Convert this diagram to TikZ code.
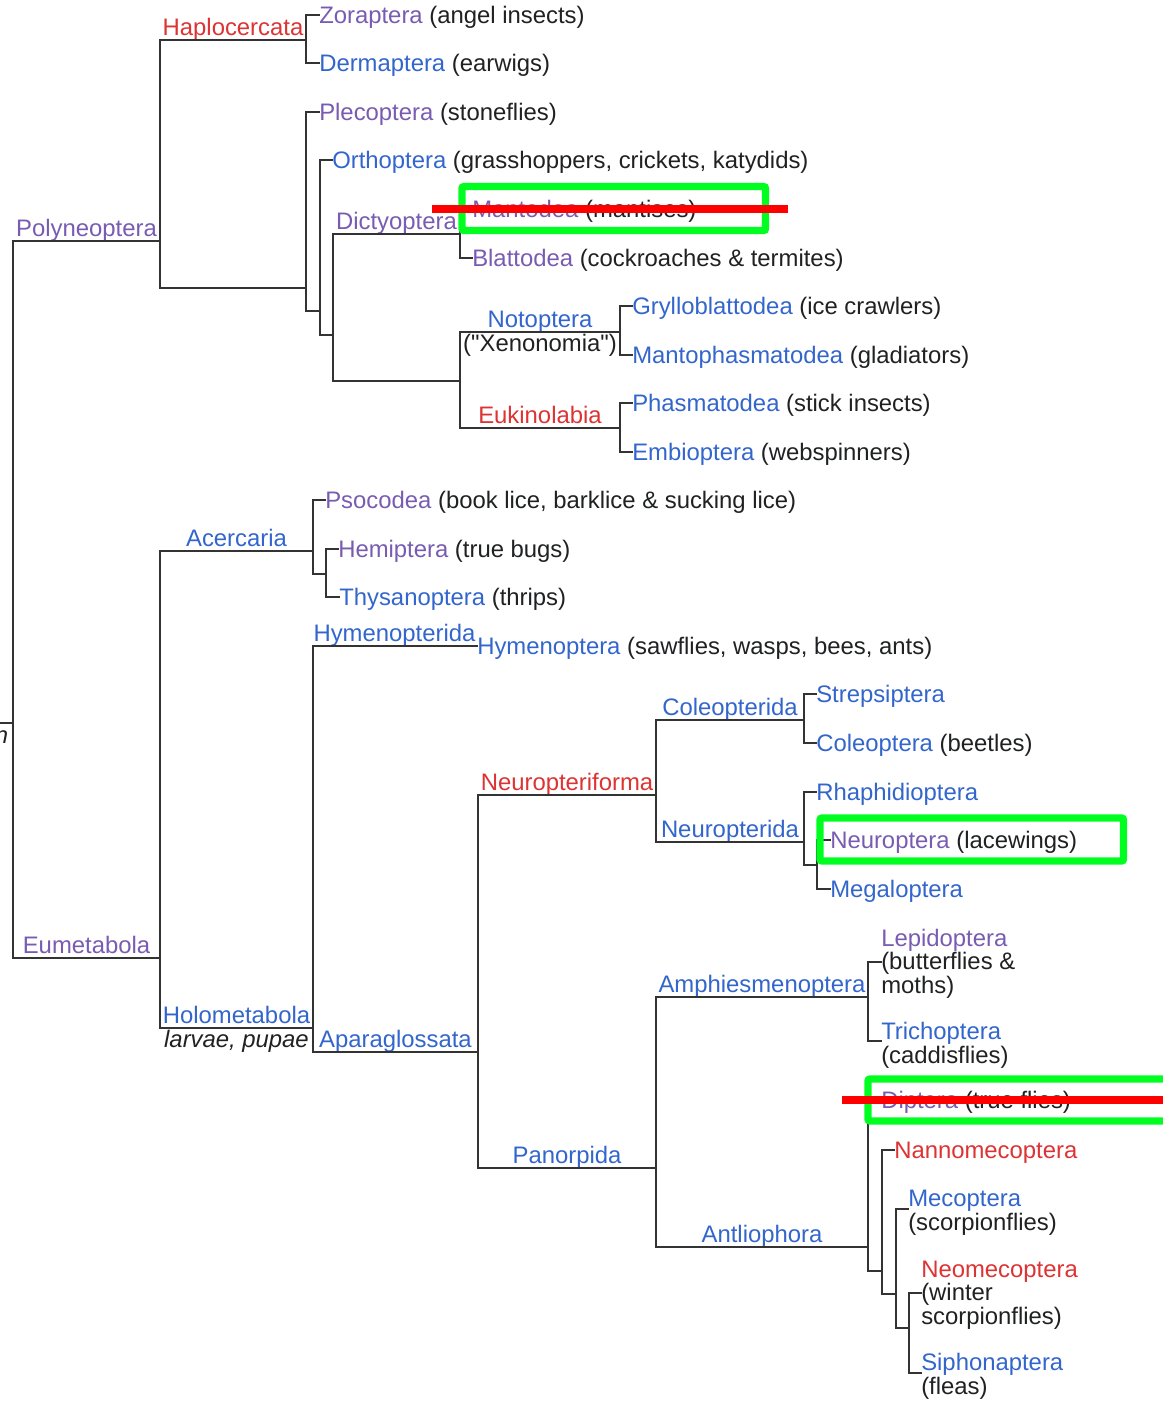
\documentclass[tikz,border=0pt]{standalone}
\usepackage{fontspec}
\setmainfont{Liberation Sans}
\usetikzlibrary{calc}
\definecolor{purp}{HTML}{795CB2}
\definecolor{blu}{HTML}{3366CC}
\definecolor{rdl}{HTML}{DD3333}
\definecolor{ink}{HTML}{202122}
\definecolor{linec}{HTML}{333333}
\definecolor{grn}{HTML}{00FF21}
\definecolor{strike}{HTML}{FF0000}
\newcommand{\tpu}[1]{\textcolor{purp}{#1}}
\newcommand{\tbl}[1]{\textcolor{blu}{#1}}
\newcommand{\trd}[1]{\textcolor{rdl}{#1}}
\begin{document}
\begin{tikzpicture}[x=0.75pt,y=-0.75pt,
  br/.style={draw=linec,line width=1.5pt,line cap=rect},
  txt/.style={inner sep=0pt,text=ink,font=\fontsize{17.9pt}{17.9pt}\selectfont},
  leaf/.style={txt,anchor=west,text height=12pt,text depth=0pt},
  lab/.style={txt,anchor=base},
  hl/.style={draw=grn,line width=5.5pt,rounded corners=1.5pt},
  cross/.style={draw=strike,line width=5.5pt}]
\useasboundingbox (0,0) rectangle (1163,1404);
\fill[white] (0,0) rectangle (1163,1404);

% ---------- junction coordinates ----------
\coordinate (rs) at (0,723);
\coordinate (r) at (13,723);
\coordinate (pn) at (160,241);
\coordinate (hap) at (306,40);
\coordinate (plg) at (306,288);
\coordinate (o1) at (320,311);
\coordinate (o2) at (333,335);
\coordinate (dic) at (460,234);
\coordinate (xen) at (460,381);
\coordinate (not) at (620,332);
\coordinate (euk) at (620,428);
\coordinate (eu) at (160,958);
\coordinate (ace) at (313,551);
\coordinate (a2) at (326,574);
\coordinate (hol) at (313,1028);
\coordinate (apa) at (478,1052);
\coordinate (npf) at (656,795);
\coordinate (col) at (804,720);
\coordinate (neu) at (804,842);
\coordinate (n2) at (817,865);
\coordinate (pan) at (656,1168);
\coordinate (amp) at (868,997);
\coordinate (ant) at (868,1247);
\coordinate (m1) at (882,1271);
\coordinate (m2) at (896,1294);
\coordinate (m3) at (909,1328);
\coordinate (triS) at (881,1041);
\coordinate (mecS) at (908,1209);
\coordinate (sipS) at (921,1373);

% ---------- leaves ----------
\node[leaf] (zor) at (319,15) {\tpu{Zoraptera} (angel insects)};
\node[leaf] (der) at (319,63) {\tbl{Dermaptera} (earwigs)};
\node[leaf] (ple) at (319,112) {\tpu{Plecoptera} (stoneflies)};
\node[leaf] (ort) at (332,160) {\tbl{Orthoptera} (grasshoppers, crickets, katydids)};
\node[leaf] (man) at (472,209) {\tpu{Mantodea} (mantises)};
\node[leaf] (bla) at (472,258) {\tpu{Blattodea} (cockroaches \& termites)};
\node[leaf] (gry) at (632,306) {\tbl{Grylloblattodea} (ice crawlers)};
\node[leaf] (mph) at (632,355) {\tbl{Mantophasmatodea} (gladiators)};
\node[leaf] (pha) at (632,403) {\tbl{Phasmatodea} (stick insects)};
\node[leaf] (emb) at (632,452) {\tbl{Embioptera} (webspinners)};
\node[leaf] (pso) at (325,500) {\tpu{Psocodea} (book lice, barklice \& sucking lice)};
\node[leaf] (hem) at (338,549) {\tpu{Hemiptera} (true bugs)};
\node[leaf] (thy) at (339,597) {\tbl{Thysanoptera} (thrips)};
\node[leaf] (hym) at (477,646) {\tbl{Hymenoptera} (sawflies, wasps, bees, ants)};
\node[leaf] (str) at (816,694) {\tbl{Strepsiptera}};
\node[leaf] (cop) at (816,743) {\tbl{Coleoptera} (beetles)};
\node[leaf] (rha) at (816,792) {\tbl{Rhaphidioptera}};
\node[leaf] (nro) at (830,840) {\tpu{Neuroptera} (lacewings)};
\node[leaf] (meg) at (830,889) {\tbl{Megaloptera}};
\node[leaf] (lep1) at (881,938) {\tpu{Lepidoptera}};
\node[leaf] (lep2) at (881,961.5) {(butterflies \&};
\node[leaf] (lep3) at (881,985) {moths)};
\node[leaf] (tri1) at (881,1031.5) {\tbl{Trichoptera}};
\node[leaf] (tri2) at (881,1055) {(caddisflies)};
\node[leaf] (dip) at (881,1100) {\tpu{Diptera} (true flies)};
\node[leaf] (nan) at (894,1150) {\trd{Nannomecoptera}};
\node[leaf] (mec1) at (908,1198.5) {\tbl{Mecoptera}};
\node[leaf] (mec2) at (908,1222) {(scorpionflies)};
\node[leaf] (neo1) at (921,1269) {\trd{Neomecoptera}};
\node[leaf] (neo2) at (921,1292.5) {(winter};
\node[leaf] (neo3) at (921,1316) {scorpionflies)};
\node[leaf] (sip1) at (921,1362.5) {\tbl{Siphonaptera}};
\node[leaf] (sip2) at (921,1386) {(fleas)};

% ---------- clade labels ----------
\node[lab] (lPoly) at (86.5,236.5) {\tpu{Polyneoptera}};
\node[lab] (lHap) at (233,35.5) {\trd{Haplocercata}};
\node[lab] (lDic) at (396.5,229.5) {\tpu{Dictyoptera}};
\node[lab] (lNot) at (540,327.5) {\tbl{Notoptera}};
\node[lab] (lXen) at (540,351.5) {(\textquotedbl Xenonomia\textquotedbl)};
\node[lab] (lEuk) at (540,423.5) {\trd{Eukinolabia}};
\node[lab] (lEum) at (86.5,953.5) {\tpu{Eumetabola}};
\node[lab] (lAce) at (236.5,546.5) {\tbl{Acercaria}};
\node[lab] (lHol) at (236.5,1023.5) {\tbl{Holometabola}};
\node[lab] (lLar) at (236.5,1047) {\textit{larvae, pupae}};
\node[lab] (lHyd) at (394.5,641.5) {\tbl{Hymenopterida}};
\node[lab] (lApa) at (395.5,1047.5) {\tbl{Aparaglossata}};
\node[lab] (lNpf) at (567,790.5) {\trd{Neuropteriforma}};
\node[lab] (lCol) at (730,715.5) {\tbl{Coleopterida}};
\node[lab] (lNeu) at (730,837.5) {\tbl{Neuropterida}};
\node[lab] (lPan) at (567,1163.5) {\tbl{Panorpida}};
\node[lab] (lAmp) at (762,992.5) {\tbl{Amphiesmenoptera}};
\node[lab] (lAnt) at (762,1242.5) {\tbl{Antliophora}};
\node[txt,anchor=base east] (cut) at (8.5,743) {\textit{n}};

% ---------- branches ----------
\draw[br] (rs) -- (r);
\draw[br] (r) |- (pn);
\draw[br] (r) |- (eu);
\draw[br] (pn) |- (hap);
\draw[br] (pn) |- (plg);
\draw[br] (hap) |- (zor.west);
\draw[br] (hap) |- (der.west);
\draw[br] (plg) |- (ple.west);
\draw[br] (plg) |- (o1);
\draw[br] (o1) |- (ort.west);
\draw[br] (o1) |- (o2);
\draw[br] (o2) |- (dic);
\draw[br] (o2) |- (xen);
\draw[br] (dic) |- (man.west);
\draw[br] (dic) |- (bla.west);
\draw[br] (xen) |- (not);
\draw[br] (xen) |- (euk);
\draw[br] (not) |- (gry.west);
\draw[br] (not) |- (mph.west);
\draw[br] (euk) |- (pha.west);
\draw[br] (euk) |- (emb.west);
\draw[br] (eu) |- (ace);
\draw[br] (eu) |- (hol);
\draw[br] (ace) |- (pso.west);
\draw[br] (ace) |- (a2);
\draw[br] (a2) |- (hem.west);
\draw[br] (a2) |- (thy.west);
\draw[br] (hol) |- (hym.west);
\draw[br] (hol) |- (apa);
\draw[br] (apa) |- (npf);
\draw[br] (apa) |- (pan);
\draw[br] (npf) |- (col);
\draw[br] (npf) |- (neu);
\draw[br] (col) |- (str.west);
\draw[br] (col) |- (cop.west);
\draw[br] (neu) |- (rha.west);
\draw[br] (neu) |- (n2);
\draw[br] (n2) |- (nro.west);
\draw[br] (n2) |- (meg.west);
\draw[br] (pan) |- (amp);
\draw[br] (pan) |- (ant);
\draw[br] (amp) |- (lep2.west);
\draw[br] (amp) |- (triS);
\draw[br] (ant) |- (dip.west);
\draw[br] (ant) |- (m1);
\draw[br] (m1) |- (nan.west);
\draw[br] (m1) |- (m2);
\draw[br] (m2) |- (mecS);
\draw[br] (m2) |- (m3);
\draw[br] (m3) |- (neo2.west);
\draw[br] (m3) |- (sipS);

% ---------- highlights ----------
\draw[hl] (462,186.5) rectangle (765.5,230.5);
\draw[hl] (820,818) rectangle (1123.5,861);
\draw[hl] (868,1079) rectangle (1185,1121);
\draw[cross] (432,209) -- (788,209);
\draw[cross] (842,1100) -- (1185,1100);
\end{tikzpicture}
\end{document}
